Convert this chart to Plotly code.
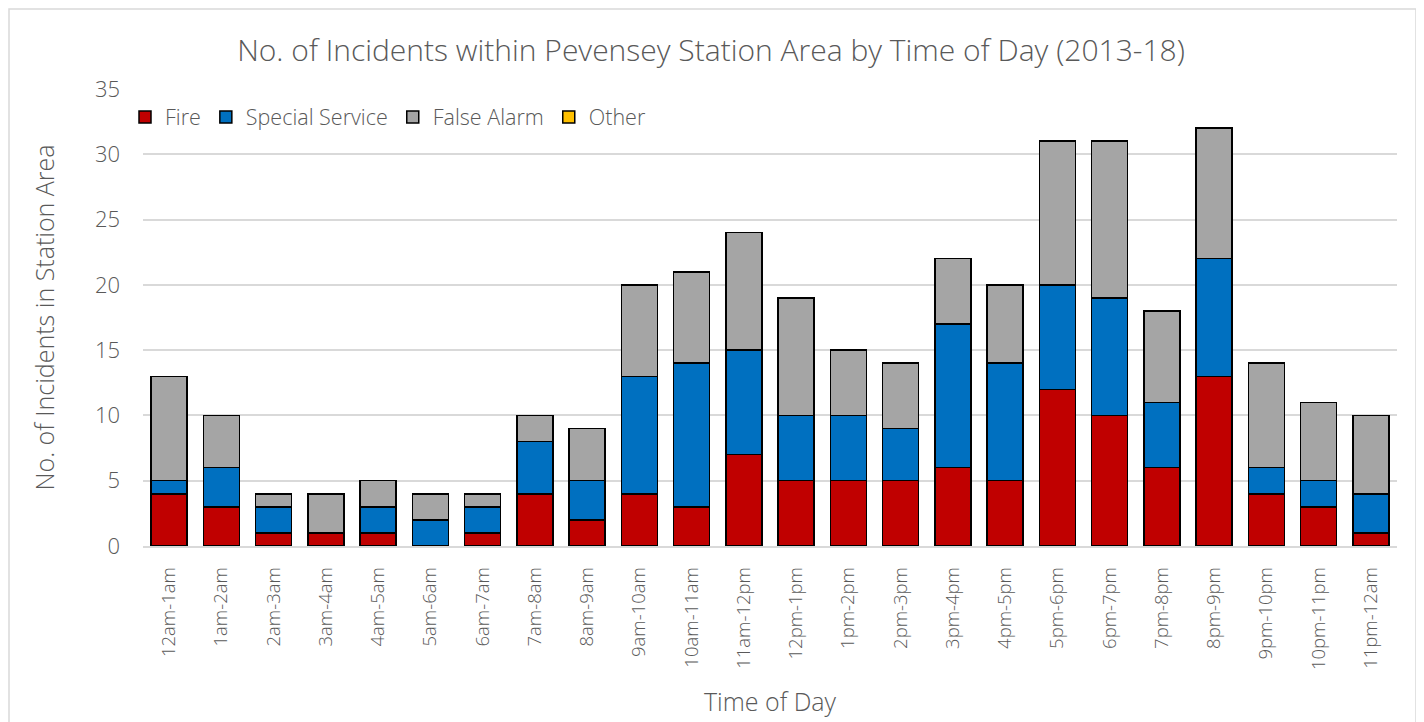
import plotly.graph_objects as go

categories = ["12am-1am", "1am-2am", "2am-3am", "3am-4am", "4am-5am", "5am-6am",
              "6am-7am", "7am-8am", "8am-9am", "9am-10am", "10am-11am", "11am-12pm",
              "12pm-1pm", "1pm-2pm", "2pm-3pm", "3pm-4pm", "4pm-5pm", "5pm-6pm",
              "6pm-7pm", "7pm-8pm", "8pm-9pm", "9pm-10pm", "10pm-11pm", "11pm-12am"]
fire = [4, 3, 1, 1, 1, 0, 1, 4, 2, 4, 3, 7, 5, 5, 5, 6, 5, 12, 10, 6, 13, 4, 3, 1]
special_service = [1, 3, 2, 0, 2, 2, 2, 4, 3, 9, 11, 8, 5, 5, 4, 11, 9, 8, 9, 5, 9, 2, 2, 3]
false_alarm = [8, 4, 1, 3, 2, 2, 1, 2, 4, 7, 7, 9, 9, 5, 5, 5, 6, 11, 12, 7, 10, 8, 6, 6]
other = [0] * 24

series = [("Fire", fire, "#C00000"),
          ("Special Service", special_service, "#0070C0"),
          ("False Alarm", false_alarm, "#A5A5A5"),
          ("Other", other, "#FFC000")]

FONT = "Open Sans"
TXT = "#595959"

fig = go.Figure()
for name, vals, col in series:
    fig.add_trace(go.Bar(x=categories, y=vals, name=name,
                         marker=dict(color=col, line=dict(color="black", width=1.5))))

W, H = 1416, 714
L, R, T, B = 135, 27, 81, 176
pw, ph = W - L - R, H - T - B

def px(x):
    return (x - L) / pw

def py(y):
    return (H - B - y) / ph

fig.update_layout(
    width=W, height=H,
    barmode="stack", bargap=0.31,
    plot_bgcolor="white", paper_bgcolor="white",
    margin=dict(l=L, r=R, t=T, b=B, autoexpand=False),
    font=dict(family=FONT, color=TXT, weight=300),
    title=dict(text="No. of Incidents within Pevensey Station Area by Time of Day (2013-18)",
               x=(703) / W, xref="container", xanchor="center", yref="container",
               y=1 - 42 / H, yanchor="middle",
               font=dict(size=30, color=TXT, family=FONT, weight=300)),
    legend=dict(orientation="h", x=px(117), y=py(109), xanchor="left", yanchor="middle",
                traceorder="normal", font=dict(size=21.5, color=TXT, family=FONT, weight=300),
                bgcolor="rgba(0,0,0,0)", itemwidth=30),
    xaxis=dict(tickangle=-90, tickfont=dict(size=18.5, color=TXT, weight=300),
               showgrid=False, showline=True, linecolor="#D9D9D9", linewidth=1.5,
               ticks="", ticklabelstandoff=12,
               title=dict(text="Time of Day", font=dict(size=25, color=TXT, weight=300),
                          standoff=24)),
    yaxis=dict(range=[0, 35], dtick=5, tickfont=dict(size=22, color=TXT, weight=300),
               showgrid=True, gridcolor="#D9D9D9", gridwidth=1.5, zeroline=False,
               showline=False, ticks="", ticklabelstandoff=22,
               title=dict(text="No. of Incidents in Station Area",
                          font=dict(size=25, color=TXT, weight=300), standoff=33)),
    shapes=[dict(type="rect", xref="paper", yref="paper",
                 x0=px(1), x1=px(1408), y0=py(730), y1=py(1),
                 line=dict(color="#D9D9D9", width=1.5), fillcolor="rgba(0,0,0,0)",
                 layer="below")],
)

fig.write_html("out.html")
